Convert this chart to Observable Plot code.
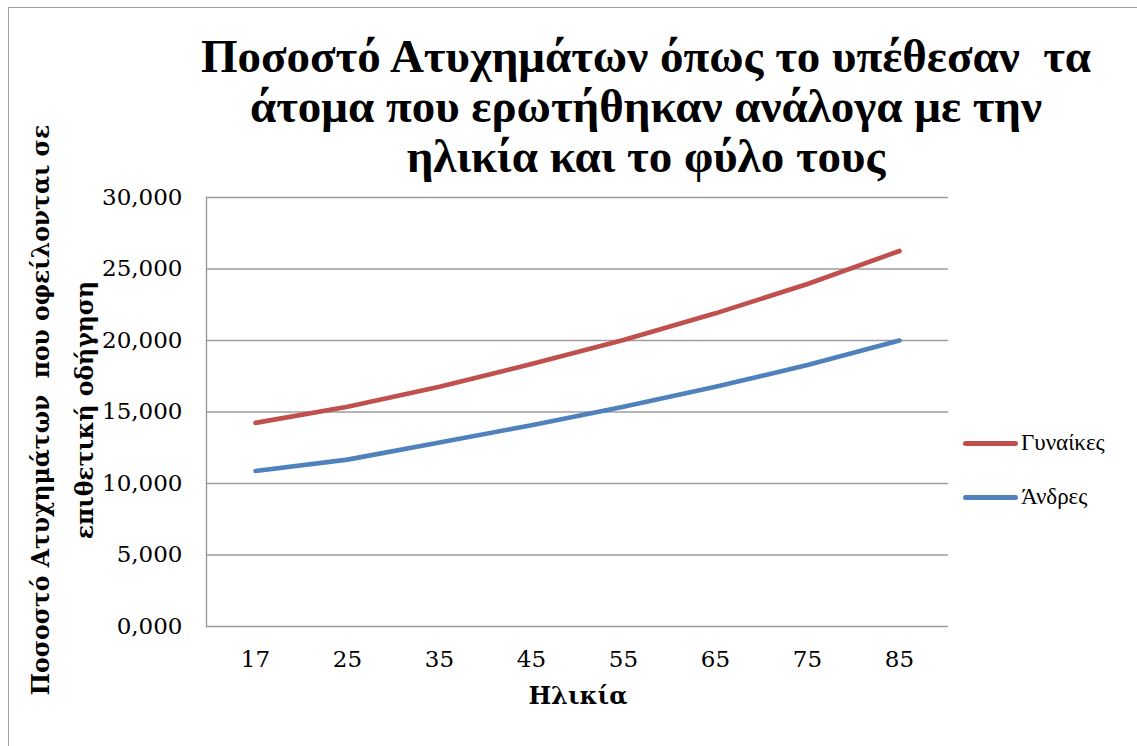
<!DOCTYPE html>
<html>
<head>
<meta charset="utf-8">
<script src="https://cdn.jsdelivr.net/npm/d3@7"></script>
<script src="https://cdn.jsdelivr.net/npm/@observablehq/plot@0.6"></script>
<style>
  html, body { margin: 0; padding: 0; background: #fff; }
  #wrap { position: relative; width: 1137px; height: 746px; overflow: hidden; background: #fff; }
  #border { position: absolute; left: 8px; top: 7px; width: 1140px; height: 760px; border: 1.5px solid #a0a0a0; box-sizing: border-box; }
  #title { position: absolute; left: 96px; width: 1100px; top: 31px; text-align: center;
           font-family: "Liberation Serif", serif; font-weight: bold; font-size: 47px; line-height: 50px; color: #000; }
  #chart { position: absolute; left: 0; top: 180px; }
  #ylab { position: absolute; left: 63px; top: 410px; width: 700px; transform: translate(-50%, -50%) rotate(-90deg);
          text-align: center; font-family: "DejaVu Serif", serif; font-weight: bold; font-size: 23.5px; line-height: 44px; color: #000; white-space: pre; }
  #xlab { position: absolute; left: 578px; top: 681px; transform: translateX(-50%);
          font-family: "DejaVu Serif", serif; font-weight: bold; font-size: 24px; color: #000; }
  .leg { position: absolute; left: 963px; font-family: "Liberation Serif", serif; font-size: 23px; color: #000; display: flex; align-items: center; }
  .sw { width: 55px; height: 5px; border-radius: 3px; margin-right: 3px; }
</style>
</head>
<body>
<div id="wrap">
  <div id="border"></div>
  <div id="title">Ποσοστό Ατυχημάτων όπως το υπέθεσαν&nbsp; τα<br>άτομα που ερωτήθηκαν ανάλογα με την<br>ηλικία και το φύλο τους</div>
  <div id="chart"></div>
  <div id="ylab">Ποσοστό Ατυχημάτων  που οφείλονται σε
επιθετική οδήγηση</div>
  <div id="xlab">Ηλικία</div>
  <div id="legend"></div>
</div>
<script>
const ages = ["17", "25", "35", "45", "55", "65", "75", "85"];
const women = [14.24, 15.36, 16.76, 18.35, 20.03, 21.9, 23.95, 26.26];
const men = [10.88, 11.67, 12.86, 14.08, 15.36, 16.76, 18.28, 20.0];
const seriesNames = ["Γυναίκες", "Άνδρες"];
const seriesColors = ["#C0504D", "#4F81BD"];
const yTicks = [0, 5, 10, 15, 20, 25, 30];

const data = [];
[women, men].forEach((vals, s) => vals.forEach((v, i) => data.push({age: ages[i], value: v, series: seriesNames[s]})));

const fmt = d => d.toFixed(3).replace(".", ",");

const chart = Plot.plot({
  width: 1137,
  height: 566,
  marginLeft: 206,
  marginRight: 189,
  marginTop: 17,
  marginBottom: 120,
  style: {fontFamily: "DejaVu Serif, serif", fontSize: "23px", color: "#000", background: "transparent"},
  x: {type: "point", domain: ages, padding: 0.5},
  y: {domain: [0, 30]},
  color: {domain: seriesNames, range: seriesColors},
  marks: [
    Plot.ruleY(yTicks, {stroke: "#9c9c9c", strokeWidth: 1.4}),
    Plot.frame({anchor: "left", stroke: "#9c9c9c", strokeWidth: 1.4}),
    Plot.axisY({ticks: yTicks, tickSize: 0, tickPadding: 24, tickFormat: fmt, label: null, fontSize: 23}),
    Plot.axisX({tickSize: 0, tickPadding: 24, label: null, fontSize: 23}),
    Plot.line(data, {x: "age", y: "value", z: "series", stroke: "series", strokeWidth: 4.6, strokeLinecap: "round", strokeLinejoin: "round"})
  ]
});
document.getElementById("chart").appendChild(chart);

const legend = document.getElementById("legend");
const legY = [443, 497];
seriesNames.forEach((n, i) => {
  const row = document.createElement("div");
  row.className = "leg";
  row.style.top = (legY[i] - 14) + "px";
  row.style.height = "28px";
  row.innerHTML = `<div class="sw" style="background:${seriesColors[i]}"></div><span>${n}</span>`;
  legend.appendChild(row);
});
</script>
</body>
</html>
